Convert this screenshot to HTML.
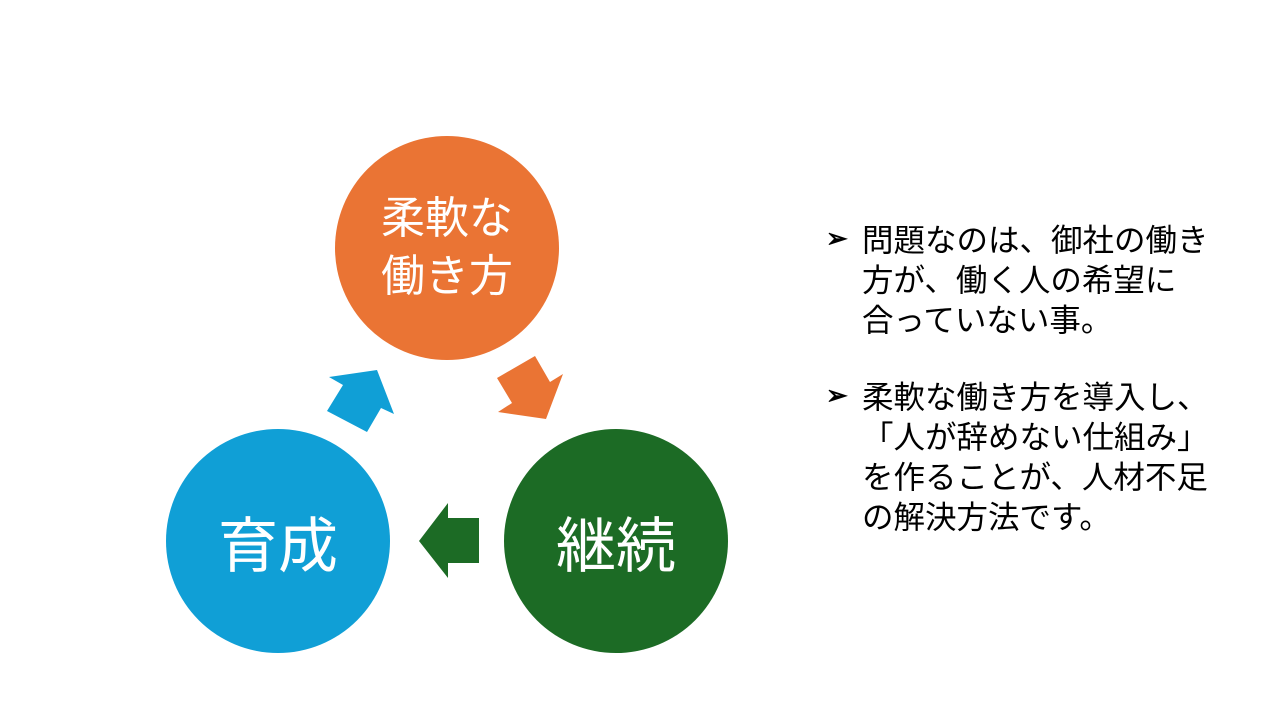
<!DOCTYPE html>
<html><head><meta charset="utf-8"><style>
body{margin:0;width:1280px;height:720px;background:#fff;position:relative;overflow:hidden;font-family:"Liberation Sans","Noto Sans CJK JP",sans-serif}
.c{position:absolute;border-radius:50%;color:#fff;display:flex;align-items:center;justify-content:center;text-align:center}
.t{position:absolute;left:862px;font-size:31.5px;line-height:40px;color:#000;white-space:nowrap}
.b{position:absolute;left:826px;font-size:26px;font-weight:bold}
</style></head><body>
<svg width="1280" height="720" style="position:absolute;left:0;top:0">
<polygon points="327,411 343,385 329,377 377,370 394,414 381,408 367,432" fill="#109FD6"/>
<polygon points="497,378 535,356 550,382 563,374 546,419 498,412 512,403" fill="#EA7434"/>
<polygon points="419,541 448,503 448,518 479,518 479,563 448,563 448,578" fill="#1C6B25"/>
</svg>
<div class="c" style="left:335px;top:136px;width:224px;height:224px;background:#EA7434;font-size:44px;line-height:58px">柔軟な<br>働き方</div>
<div class="c" style="left:166px;top:429px;width:224px;height:224px;background:#109FD6;font-size:60px">育成</div>
<div class="c" style="left:504px;top:429px;width:224px;height:224px;background:#1C6B25;font-size:60px">継続</div>
<div class="b" style="top:223px">➢</div>
<div class="t" style="top:220px">問題なのは、御社の働き<br>方が、働く人の希望に<br>合っていない事。</div>
<div class="b" style="top:380px">➢</div>
<div class="t" style="top:377px">柔軟な働き方を導入し、<br>「人が辞めない仕組み」<br>を作ることが、人材不足<br>の解決方法です。</div>
</body></html>
